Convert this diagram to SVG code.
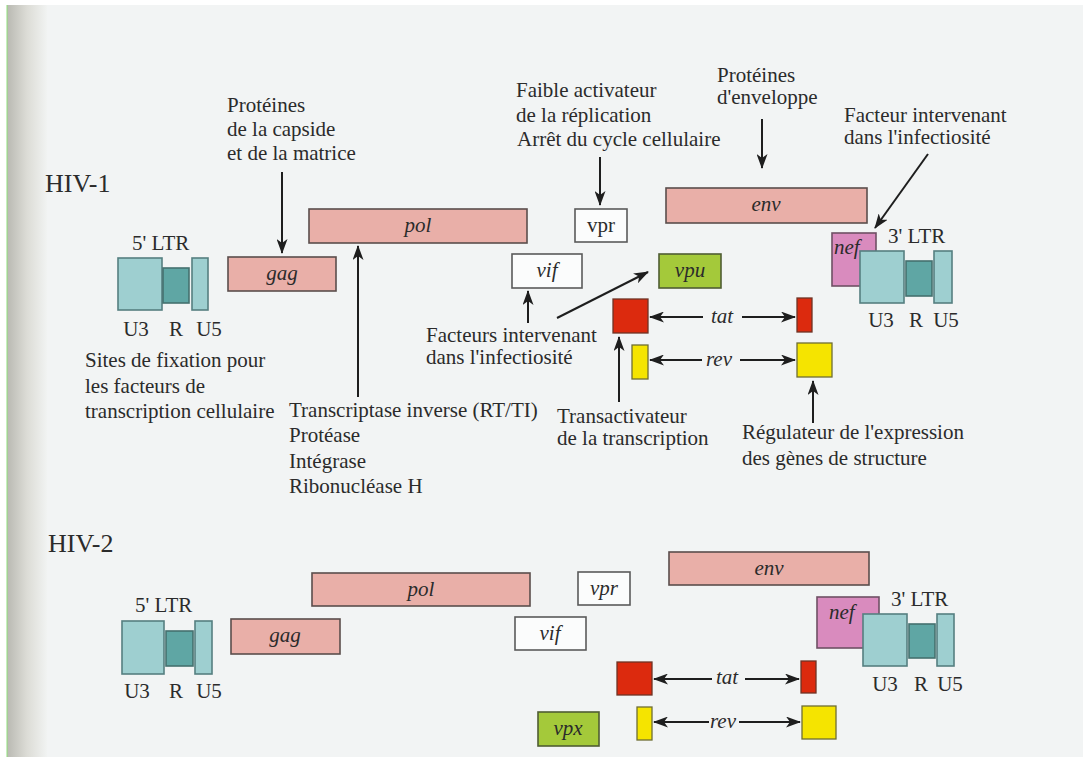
<svg xmlns="http://www.w3.org/2000/svg" width="1083" height="757" viewBox="0 0 1083 757">
<defs>
<linearGradient id="edge" x1="0" y1="0" x2="1" y2="0">
<stop offset="0" stop-color="#b9b9b2"/>
<stop offset="0.5" stop-color="#dcdcd6"/>
<stop offset="1" stop-color="#f1f3f2"/>
</linearGradient>
<marker id="ah" viewBox="0 0 15 11" refX="14" refY="5.5" markerWidth="15" markerHeight="11" markerUnits="userSpaceOnUse" orient="auto">
<path d="M0,0 L15,5.5 L0,11 L4,5.5 z" fill="#1e1e1e"/>
</marker>
<style>
text{font-family:"Liberation Serif","Times New Roman",serif;fill:#2b2b2b;font-size:21px}
.it{font-style:italic;font-size:21px}
.hiv{font-size:26px}
.pink{fill:#e9afa8;stroke:#5a4e4c;stroke-width:1.6}
.white{fill:#fbfcfc;stroke:#5a5a5a;stroke-width:1.6}
.ltr{fill:#9ecfd0;stroke:#557f80;stroke-width:1.6}
.ltrr{fill:#5fa6a4;stroke:#44716f;stroke-width:1.6}
.nef{fill:#d98bbe;stroke:#6e5064;stroke-width:1.6}
.grn{fill:#a4c93a;stroke:#4f5d33;stroke-width:1.6}
.red{fill:#dc2a0e;stroke:#6e3426;stroke-width:1.3}
.yel{fill:#f5e400;stroke:#6e6e34;stroke-width:1.3}
.arr{stroke:#1e1e1e;stroke-width:2;fill:none;marker-end:url(#ah)}
.mid{text-anchor:middle}
</style>
</defs>
<rect width="1083" height="757" fill="#ffffff"/>
<rect x="7" y="5" width="1076" height="752" fill="#f2f4f4"/>
<rect x="7" y="5" width="40" height="752" fill="url(#edge)"/>
<line x1="7" y1="5" x2="7" y2="757" stroke="#8fe07a" stroke-width="1"/>

<!-- HIV-1 -->
<text id="hiv1" class="hiv" x="45" y="192">HIV-1</text>

<g id="ltr5-1">
<text x="132" y="250" font-size="20">5' LTR</text>
<rect class="ltr" x="118" y="258" width="44" height="52"/>
<rect class="ltrr" x="163" y="268" width="26" height="35"/>
<rect class="ltr" x="192" y="258" width="16" height="52"/>
<text class="mid" x="136" y="336">U3</text>
<text class="mid" x="176" y="336">R</text>
<text class="mid" x="209" y="336">U5</text>
</g>
<g id="gag1"><rect class="pink" x="228" y="257" width="108" height="34"/><text class="it mid" x="282" y="280">gag</text></g>
<g id="pol1"><rect class="pink" x="309" y="209" width="218" height="34"/><text class="it mid" x="418" y="232">pol</text></g>
<g id="vpr1"><rect class="white" x="575" y="209" width="52" height="33"/><text class="mid" x="601" y="232">vpr</text></g>
<g id="vif1"><rect class="white" x="512" y="254" width="70" height="34"/><text class="it mid" x="547" y="277">vif</text></g>
<g id="vpu1"><rect class="grn" x="659" y="254" width="62" height="34"/><text class="it mid" x="690" y="277">vpu</text></g>
<g id="env1"><rect class="pink" x="666" y="188" width="201" height="35"/><text class="it mid" x="766" y="211">env</text></g>
<g id="nef1"><rect class="nef" x="832" y="233" width="44" height="53"/><text class="it" x="834" y="254">nef</text></g>
<g id="ltr3-1">
<text x="888" y="243" font-size="20">3' LTR</text>
<rect class="ltr" x="860" y="251" width="44" height="52"/>
<rect class="ltrr" x="906" y="261" width="26" height="35"/>
<rect class="ltr" x="934" y="251" width="18" height="52"/>
<text class="mid" x="881" y="327">U3</text>
<text class="mid" x="916" y="327">R</text>
<text class="mid" x="946" y="327">U5</text>
</g>
<g id="tat1">
<rect class="red" x="613" y="299" width="35" height="34"/>
<rect class="red" x="797" y="298" width="15" height="34"/>
<text class="it mid" x="722" y="323">tat</text>
</g>
<g id="rev1">
<rect class="yel" x="632" y="345" width="16" height="34"/>
<rect class="yel" x="797" y="343" width="35" height="34"/>
<text class="it mid" x="719" y="366">rev</text>
</g>

<g id="labels1">
<text x="227" y="112">Protéines</text>
<text x="227" y="136">de la capside</text>
<text x="227" y="160">et de la matrice</text>
<text x="516" y="97">Faible activateur</text>
<text x="516" y="122">de la réplication</text>
<text x="517" y="146">Arrêt du cycle cellulaire</text>
<text x="717" y="82">Protéines</text>
<text x="717" y="104">d'enveloppe</text>
<text x="844" y="122">Facteur intervenant</text>
<text x="844" y="144">dans l'infectiosité</text>
<text x="85" y="367">Sites de fixation pour</text>
<text x="85" y="393">les facteurs de</text>
<text x="85" y="418">transcription cellulaire</text>
<text x="289" y="417">Transcriptase inverse (RT/TI)</text>
<text x="289" y="442">Protéase</text>
<text x="289" y="468">Intégrase</text>
<text x="289" y="493">Ribonucléase H</text>
<text x="426" y="342">Facteurs intervenant</text>
<text x="426" y="364">dans l'infectiosité</text>
<text x="557" y="423">Transactivateur</text>
<text x="557" y="445">de la transcription</text>
<text x="742" y="439">Régulateur de l'expression</text>
<text x="742" y="465">des gènes de structure</text>
</g>

<!-- HIV-2 -->
<text id="hiv2" class="hiv" x="48" y="552">HIV-2</text>
<g id="ltr5-2">
<text x="135" y="612" font-size="20">5' LTR</text>
<rect class="ltr" x="122" y="621" width="42" height="53"/>
<rect class="ltrr" x="166" y="631" width="27" height="35"/>
<rect class="ltr" x="195" y="621" width="17" height="53"/>
<text class="mid" x="137" y="698">U3</text>
<text class="mid" x="176" y="698">R</text>
<text class="mid" x="209" y="698">U5</text>
</g>
<g id="gag2"><rect class="pink" x="231" y="619" width="109" height="35"/><text class="it mid" x="285" y="642">gag</text></g>
<g id="pol2"><rect class="pink" x="312" y="573" width="218" height="33"/><text class="it mid" x="421" y="596">pol</text></g>
<g id="vpr2"><rect class="white" x="578" y="572" width="52" height="33"/><text class="it mid" x="604" y="595">vpr</text></g>
<g id="vif2"><rect class="white" x="515" y="617" width="71" height="33"/><text class="it mid" x="550" y="640">vif</text></g>
<g id="env2"><rect class="pink" x="669" y="552" width="200" height="33"/><text class="it mid" x="769" y="575">env</text></g>
<g id="nef2"><rect class="nef" x="817" y="597" width="62" height="51"/><text class="it" x="829" y="619">nef</text></g>
<g id="ltr3-2">
<text x="891" y="606" font-size="20">3' LTR</text>
<rect class="ltr" x="863" y="614" width="44" height="52"/>
<rect class="ltrr" x="909" y="624" width="26" height="34"/>
<rect class="ltr" x="937" y="614" width="17" height="52"/>
<text class="mid" x="885" y="691">U3</text>
<text class="mid" x="921" y="691">R</text>
<text class="mid" x="950" y="691">U5</text>
</g>
<g id="tat2">
<rect class="red" x="617" y="662" width="35" height="33"/>
<rect class="red" x="801" y="661" width="15" height="32"/>
<text class="it mid" x="727" y="684">tat</text>
</g>
<g id="rev2">
<rect class="yel" x="637" y="707" width="15" height="33"/>
<rect class="yel" x="802" y="706" width="34" height="33"/>
<text class="it mid" x="723" y="728">rev</text>
</g>
<g id="vpx2"><rect class="grn" x="538" y="712" width="61" height="34"/><text class="it mid" x="568" y="735">vpx</text></g>

<g id="connectors">
<line class="arr" x1="282" y1="172" x2="282" y2="253"/>
<line class="arr" x1="358" y1="397" x2="358" y2="246"/>
<line class="arr" x1="600" y1="157" x2="600" y2="205"/>
<line class="arr" x1="762" y1="119" x2="762" y2="168"/>
<line class="arr" x1="928" y1="154" x2="875" y2="228"/>
<line class="arr" x1="528" y1="323" x2="528" y2="291"/>
<line class="arr" x1="557" y1="318" x2="648" y2="272"/>
<line class="arr" x1="703" y1="317" x2="650" y2="317"/>
<line class="arr" x1="742" y1="317" x2="795" y2="317"/>
<line class="arr" x1="702" y1="360" x2="650" y2="360"/>
<line class="arr" x1="740" y1="360" x2="795" y2="360"/>
<line class="arr" x1="619" y1="402" x2="619" y2="337"/>
<line class="arr" x1="813" y1="423" x2="813" y2="381"/>
<line class="arr" x1="712" y1="679" x2="654" y2="679"/>
<line class="arr" x1="745" y1="679" x2="799" y2="679"/>
<line class="arr" x1="709" y1="722" x2="654" y2="722"/>
<line class="arr" x1="739" y1="722" x2="800" y2="722"/>
</g>
</svg>
